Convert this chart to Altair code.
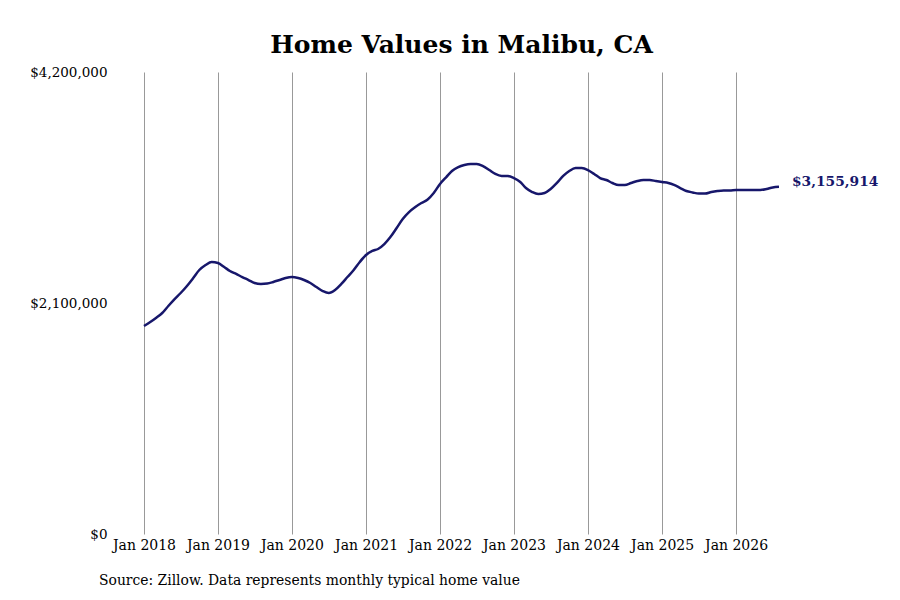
import altair as alt
import pandas as pd

TITLE = "Home Values in Malibu, CA"
SOURCE = "Source: Zillow. Data represents monthly typical home value"
START = "2018-01-01"
N_MONTHS = 104

values = [
    # 2018
    1891000, 1927000, 1964000, 2009000, 2073000, 2136000, 2191000, 2255000, 2327000, 2400000, 2445000, 2473000,
    # 2019
    2464000, 2427000, 2391000, 2364000, 2336000, 2309000, 2282000, 2273000, 2277000, 2291000, 2309000, 2327000,
    # 2020
    2336000, 2327000, 2309000, 2282000, 2245000, 2209000, 2191000, 2218000, 2273000, 2336000, 2400000, 2473000,
    # 2021
    2536000, 2573000, 2591000, 2636000, 2700000, 2782000, 2864000, 2927000, 2973000, 3009000, 3041000, 3100000,
    # 2022
    3182000, 3245000, 3300000, 3336000, 3355000, 3364000, 3364000, 3345000, 3309000, 3273000, 3255000, 3255000,
    # 2023
    3236000, 3200000, 3145000, 3109000, 3091000, 3100000, 3136000, 3191000, 3255000, 3300000, 3327000, 3327000,
    # 2024
    3309000, 3273000, 3236000, 3218000, 3191000, 3173000, 3173000, 3191000, 3209000, 3218000, 3218000, 3209000,
    # 2025
    3200000, 3191000, 3173000, 3145000, 3118000, 3105000, 3095000, 3095000, 3109000, 3118000, 3123000, 3123000,
    # 2026
    3127000, 3127000, 3127000, 3127000, 3127000, 3136000, 3150000, 3155914,
]

y_ticks = [0, 2100000, 4200000]
x_tick_years = list(range(2018, 2027))

dates = pd.date_range(START, periods=N_MONTHS, freq="MS")
df = pd.DataFrame({"date": dates, "value": values})
last = df.tail(1)

FONT = "DejaVu Serif"
NAVY = "#17176b"

x_enc = alt.X(
    "date:T",
    scale=alt.Scale(domain=[alt.DateTime(year=2018, month=1, date=1),
                            alt.DateTime(year=2026, month=8, date=1)], nice=False),
    axis=alt.Axis(
        values=[alt.DateTime(year=y, month=1, date=1) for y in x_tick_years],
        format="%b %Y", grid=True, gridColor="#999999", gridWidth=1,
        domain=False, ticks=False, labelPadding=4, labelAngle=0,
        labelFlush=False, labelFont=FONT, labelFontSize=14,
        labelColor="black", title=None,
    ),
)
y_enc = alt.Y(
    "value:Q",
    scale=alt.Scale(domain=[0, 4200000], nice=False),
    axis=alt.Axis(
        values=y_ticks, format="$,.0f", grid=False, domain=False, ticks=False,
        labelPadding=37, labelFont=FONT, labelFontSize=13.5, labelColor="black",
        title=None,
    ),
)

line = alt.Chart(df).mark_line(color=NAVY, strokeWidth=2.5, interpolate="monotone").encode(
    x=x_enc, y=y_enc
)

end_label = alt.Chart(last).mark_text(
    align="left", baseline="middle", dx=13, dy=-5, font=FONT, fontSize=13.8,
    fontWeight="bold", color=NAVY,
).encode(x="date:T", y="value:Q", text=alt.Text("value:Q", format="$,.0f"))

caption = alt.Chart(pd.DataFrame({"t": [SOURCE]})).mark_text(
    align="left", baseline="middle", font=FONT, fontSize=13.9, color="black"
).encode(x=alt.value(-45), y=alt.value(509), text="t:N")

chart = alt.layer(line, end_label, caption).properties(
    width=635, height=462,
    title=alt.TitleParams(TITLE, font=FONT, fontSize=25, fontWeight="bold",
                          color="black", anchor="middle", frame="group", offset=7),
    autosize=alt.AutoSizeParams(type="none"),
    padding={"left": 136, "top": 64, "right": 100, "bottom": 70},
    background="white",
).configure_view(stroke=None)

chart.save("out.html", embed_options={"renderer": "svg", "actions": False})
